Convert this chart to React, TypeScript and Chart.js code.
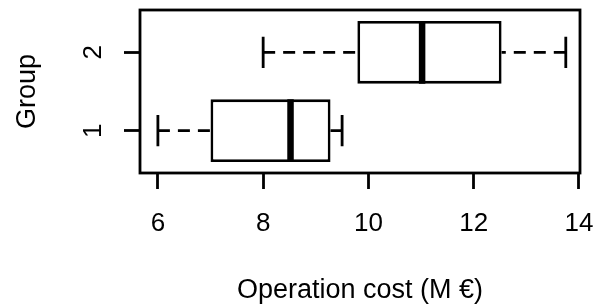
import React, { useEffect, useRef } from 'react';
import { Chart, registerables } from 'chart.js';

Chart.register(...registerables);

// ---- data ----
const groups = [1, 2];
const groupLabels = ['1', '2'];
const mins = [6.0, 8.0];
const q1s = [7.0, 9.79];
const medians = [8.52, 11.02];
const q3s = [9.28, 12.53];
const maxs = [9.5, 13.75];
const xTicks = [6, 8, 10, 12, 14];
const xTickLabels = ['6', '8', '10', '12', '14'];
const xTitle = 'Operation cost (M €)';
const yTitle = 'Group';

const BOX_HALF = 0.4;
const STAPLE_HALF = 0.2;
const FONT = '"Liberation Sans", Arial, Helvetica, sans-serif';
const GAP = { x: null, y: null };

const framePlugin = {
  id: 'rframe',
  afterDraw(chart: any) {
    const { ctx, chartArea: a } = chart;
    ctx.save();
    ctx.strokeStyle = '#000';
    ctx.lineWidth = 2.8;
    ctx.strokeRect(a.left, a.top, a.right - a.left, a.bottom - a.top);
    ctx.restore();
  },
};

export default function App() {
  const ref = useRef<HTMLCanvasElement | null>(null);

  useEffect(() => {
    if (!ref.current) return;

    const boxData = groups.map((g, i) => ({ y: g, x: [q1s[i], q3s[i]] }));
    const medianData: any[] = [];
    const whiskerData: any[] = [];
    const stapleData: any[] = [];
    groups.forEach((g, i) => {
      medianData.push({ x: medians[i], y: g - BOX_HALF }, { x: medians[i], y: g + BOX_HALF }, GAP);
      whiskerData.push({ x: mins[i], y: g }, { x: q1s[i], y: g }, GAP);
      whiskerData.push({ x: maxs[i], y: g }, { x: q3s[i], y: g }, GAP);
      stapleData.push({ x: mins[i], y: g - STAPLE_HALF }, { x: mins[i], y: g + STAPLE_HALF }, GAP);
      stapleData.push({ x: maxs[i], y: g - STAPLE_HALF }, { x: maxs[i], y: g + STAPLE_HALF }, GAP);
    });

    const lineBase = {
      type: 'scatter' as const,
      showLine: true,
      spanGaps: false,
      pointRadius: 0,
      pointHoverRadius: 0,
      borderColor: '#000',
      backgroundColor: '#000',
      fill: false,
      borderCapStyle: 'butt',
    };

    const gridCommon = {
      display: true,
      drawOnChartArea: false,
      drawTicks: true,
      tickLength: 16,
      tickWidth: 2.8,
      tickColor: '#000',
      offset: false,
    };

    const chart = new Chart(ref.current, {
      type: 'bar',
      data: {
        datasets: [
          {
            ...lineBase,
            label: 'median',
            data: medianData,
            borderWidth: 6.5,
            order: 0,
          } as any,
          {
            ...lineBase,
            label: 'staples',
            data: stapleData,
            borderWidth: 2.8,
            order: 1,
          } as any,
          {
            ...lineBase,
            label: 'whiskers',
            data: whiskerData,
            borderWidth: 2.8,
            borderDash: [12, 8],
            order: 2,
          } as any,
          {
            type: 'bar',
            label: 'box',
            indexAxis: 'y',
            data: boxData as any,
            backgroundColor: '#fff',
            borderColor: '#000',
            borderWidth: 2.8,
            borderSkipped: false,
            barPercentage: 2 * BOX_HALF,
            categoryPercentage: 1,
            order: 3,
          } as any,
        ],
      },
      options: {
        animation: false,
        responsive: false,
        indexAxis: 'y',
        events: [],
        layout: { padding: { left: 0, top: 10, right: 23, bottom: 0 } },
        plugins: {
          legend: { display: false },
          tooltip: { enabled: false },
        },
        scales: {
          x: {
            type: 'linear',
            position: 'bottom',
            min: 5.66,
            max: 14.02,
            bounds: 'data',
            offset: false,
            afterBuildTicks: (s: any) => {
              s.ticks = xTicks.map((v) => ({ value: v }));
            },
            afterFit: (s: any) => {
              s.height = 135;
              s.paddingLeft = 0;
              s.paddingRight = 0;
            },
            grid: gridCommon,
            border: { display: false },
            ticks: {
              color: '#000',
              font: { family: FONT, size: 26 },
              padding: 19,
              autoSkip: false,
              minRotation: 0,
              maxRotation: 0,
              callback: (_v: any, i: number) => xTickLabels[i],
            },
            title: {
              display: true,
              text: xTitle,
              color: '#000',
              font: { family: FONT, size: 27 },
              padding: { top: 0, bottom: 0.8 },
            },
          },
          y: {
            type: 'linear',
            position: 'left',
            min: 0.46,
            max: 2.54,
            bounds: 'data',
            offset: false,
            afterBuildTicks: (s: any) => {
              s.ticks = groups.map((v) => ({ value: v }));
            },
            afterFit: (s: any) => {
              s.width = 140;
              s.paddingTop = 0;
              s.paddingBottom = 0;
            },
            grid: gridCommon,
            border: { display: false },
            ticks: {
              color: '#000',
              font: { family: FONT, size: 26 },
              padding: 23,
              autoSkip: false,
              minRotation: 90,
              maxRotation: 90,
              crossAlign: 'center',
              callback: (v: any) => groupLabels[groups.indexOf(Number(v))],
            },
            title: {
              display: true,
              text: yTitle,
              color: '#000',
              font: { family: FONT, size: 27 },
              padding: { top: 11, bottom: 0 },
            },
          },
        },
      } as any,
      plugins: [framePlugin],
    });

    return () => {
      chart.destroy();
    };
  }, []);

  return (
    <div style={{ position: 'absolute', left: 0, top: 0, width: 603, height: 308, background: '#fff' }}>
      <canvas ref={ref} width={603} height={308} style={{ display: 'block' }} />
    </div>
  );
}
